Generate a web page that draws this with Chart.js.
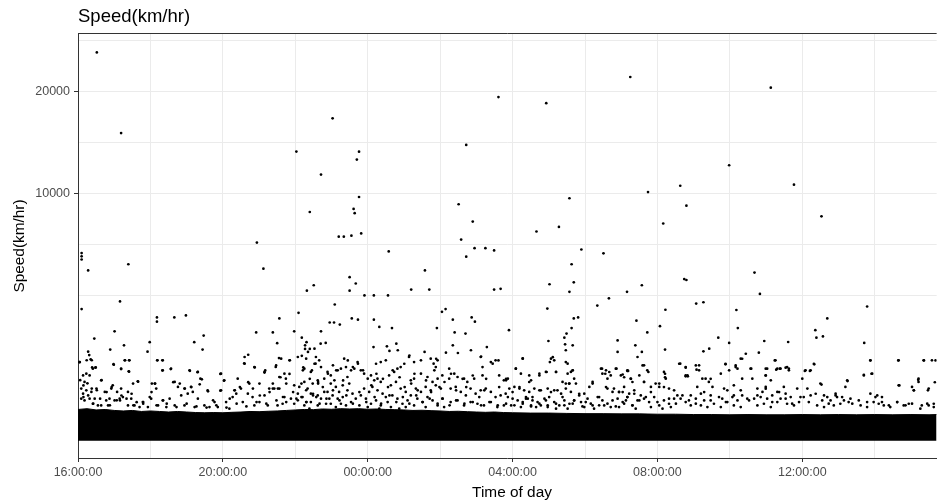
<!DOCTYPE html>
<html>
<head>
<meta charset="utf-8">
<script src="https://cdn.jsdelivr.net/npm/chart.js@4.4.1/dist/chart.umd.min.js"></script>
<style>
  body { margin: 0; background: #fff; }
  canvas { display: block; }
</style>
</head>
<body>
<canvas id="graph1" width="938" height="504"></canvas>
<script>
// time of day is kept as hours after midnight of the first day (16 = 16:00, 28 = 04:00 next day)
const xMajorHours = [16, 20, 24, 28, 32, 36];
const xMinorHours = [18, 22, 26, 30, 34, 38];
const xRange = [16, 39.71];

// speed axis is square-root scaled, like ggplot's scale_y_sqrt
const yMajorSpeeds = [10000, 20000];
const yMinorSpeeds = [3432, 6287, 14571, 26287];
const yRange = [-49, 27100];

// top edge of the solid black band of slow readings (km/hr)
const bandHours = [16, 16.25, 16.5, 16.75, 17, 17.25, 17.5, 17.75, 18, 18.25, 18.5, 18.75, 19, 19.25, 19.5,
  19.75, 20, 20.25, 20.5, 20.75, 21, 21.25, 21.5, 21.75, 22, 22.25, 22.5, 22.75, 23, 23.25, 23.5, 23.75,
  24, 24.25, 24.5, 24.75, 25, 25.25, 25.5, 25.75, 26, 26.25, 26.5, 26.75, 27, 27.25, 27.5, 27.75,
  28, 28.5, 29, 29.5, 30, 30.5, 31, 31.5, 32, 32.5, 33, 33.5, 34, 34.5, 35, 35.5, 36, 36.5, 37, 37.5,
  38, 38.5, 39, 39.5, 39.71];
const bandTop = [160, 168, 155, 160, 150, 145, 150, 140, 145, 140, 135, 140, 135, 130, 128,
  130, 128, 132, 135, 140, 138, 142, 145, 150, 155, 160, 158, 165, 162, 168, 165, 168,
  162, 165, 160, 158, 155, 150, 152, 148, 145, 140, 142, 138, 135, 132, 135, 130,
  128, 125, 125, 122, 120, 120, 118, 118, 115, 115, 112, 112, 110, 112, 110, 110, 112, 110, 112, 110,
  112, 110, 112, 110, 112];

// high readings [hour, km/hr]
const highPoints = [
  [16.52, 24700], [17.19, 15500], [22.03, 13700], [20.94, 6430], [21.12, 4850], [16.10, 5770], [16.10, 5570],
  [16.10, 5380], [16.28, 4750], [17.39, 5100], [17.16, 3180], [16.10, 2840], [17.01, 1960], [16.45, 1710],
  [18.18, 2490], [18.18, 2320], [18.66, 2490], [18.98, 2570], [19.47, 1810], [21.56, 2450], [20.92, 1920],
  [21.38, 1920], [21.97, 1960],
  [27.61, 19350], [23.03, 17030], [26.72, 14330], [23.76, 13690], [23.70, 12950], [22.71, 11600], [23.76, 9730],
  [22.40, 8570], [23.61, 8800], [23.64, 8480], [23.20, 6820], [23.34, 6820], [23.55, 6890], [23.82, 7040],
  [24.58, 5870], [25.58, 4750], [22.32, 3690], [22.51, 3960], [23.50, 4380], [23.67, 4050], [23.50, 3690],
  [23.91, 3460], [24.17, 3460], [24.56, 3460], [25.20, 3740], [25.70, 3740], [26.51, 9160], [26.90, 7870],
  [26.58, 6630], [26.95, 6070], [27.25, 6070], [27.49, 5930], [26.72, 5550], [27.49, 3740], [27.67, 3780],
  [22.09, 2680], [23.09, 3040], [22.95, 2290], [23.07, 2290], [23.23, 2210], [23.56, 2450], [23.73, 2400],
  [24.17, 2400], [26.05, 2720], [26.15, 2840], [26.35, 2400], [26.87, 2490], [26.96, 2320], [22.71, 1960],
  [24.32, 2120], [24.67, 2080], [25.91, 2080], [27.90, 2000], [26.40, 1920], [26.70, 1880], [22.18, 1740],
  [31.25, 21670], [28.93, 18660], [33.98, 12430], [32.63, 10650], [31.74, 10130], [32.80, 9050], [29.57, 9630],
  [32.16, 7730], [29.28, 7490], [28.66, 7170], [29.90, 5990], [30.51, 5750], [29.63, 5100], [29.02, 4010],
  [29.69, 4110], [29.57, 3630], [31.57, 3960], [31.16, 3630], [32.74, 4280], [32.80, 4230], [28.96, 2860],
  [29.69, 2450], [29.81, 2490], [29.63, 2080], [29.49, 1880], [29.43, 1740], [30.34, 2990], [30.66, 3320],
  [31.42, 2360], [31.72, 1920], [32.07, 2150], [32.22, 2810], [33.07, 3080], [33.27, 3140], [33.68, 1740],
  [35.13, 20420], [35.77, 10740], [36.53, 8250], [34.68, 4630], [34.83, 3530], [34.18, 2800], [34.22, 2080],
  [37.79, 2950], [36.69, 2450], [36.36, 2000], [36.39, 1740], [36.57, 1780]
];

// the scattered cloud between roughly 1000 and 2000 km/hr and just above the band [hour, km/hr]
const cloudPoints = [
  [17.98, 1590], [17.27, 1490], [16.89, 1360], [16.28, 1300], [16.31, 1200], [17.92, 1300], [19.21, 1590],
  [19.44, 1360], [21.50, 1560], [22.31, 1590],
  [16.04, 1010], [16.24, 1060], [16.38, 1060], [17.41, 1060], [17.30, 1060], [18.19, 1060], [18.33, 1060],
  [16.49, 880], [16.39, 880], [16.98, 960], [17.19, 840], [17.41, 780], [17.66, 570], [18.33, 810], [18.56, 840],
  [19.09, 800], [19.30, 770], [19.38, 630], [19.59, 400], [19.93, 730], [20.03, 590], [19.93, 410], [20.59, 980],
  [20.70, 1210], [20.88, 880], [21.15, 760], [21.17, 810], [21.46, 890], [21.55, 1120], [21.59, 660], [21.84, 730],
  [21.85, 1060], [22.18, 1180], [22.27, 1380], [22.40, 1380], [22.22, 880], [22.46, 810], [22.53, 970],
  [16.06, 600], [16.15, 500], [16.26, 540], [16.38, 445], [16.52, 417], [16.65, 600], [16.79, 388], [16.93, 471],
  [17.07, 267], [17.20, 335], [17.34, 289], [17.48, 361], [17.62, 243], [17.80, 225], [18.03, 388], [18.12, 534],
  [18.35, 267], [18.63, 562], [18.81, 534], [18.95, 445], [19.13, 471], [19.36, 520], [19.73, 267], [20.19, 289],
  [20.33, 417], [20.47, 471], [20.70, 562], [20.83, 445], [21.02, 335], [21.29, 388], [21.38, 445], [21.52, 445],
  [21.66, 313], [21.75, 534], [21.94, 388], [22.07, 267], [22.17, 534], [22.30, 417], [22.49, 335], [22.63, 534],
  [16.15, 312], [16.42, 225], [16.61, 289], [16.88, 205], [17.16, 266], [17.53, 205], [17.80, 245], [18.17, 205],
  [18.45, 225], [18.72, 185], [19.00, 225], [19.27, 193], [19.55, 180], [19.82, 205], [20.10, 180], [20.38, 225],
  [20.65, 193], [20.93, 245], [21.20, 225], [21.48, 266], [21.75, 245], [22.03, 289], [22.31, 245], [22.58, 312],
  [28.99, 1628], [29.45, 1522], [29.66, 1490], [29.47, 1340], [30.90, 1648], [30.90, 1290],
  [22.27, 1490], [22.35, 1290], [22.53, 1388], [22.70, 1544], [22.84, 1565], [24.16, 1436], [24.53, 1458],
  [24.60, 1320], [24.79, 1544], [24.83, 1340], [25.15, 1190], [25.57, 1290], [25.82, 973], [25.89, 1100],
  [26.16, 1270], [26.35, 1490], [26.49, 1260], [26.85, 1340], [27.13, 1160], [27.29, 1436], [27.45, 973],
  [27.61, 1056], [28.09, 850], [28.28, 1110], [28.46, 565], [28.74, 697], [28.94, 773], [29.03, 1014],
  [29.11, 1142], [29.20, 773], [29.52, 973], [29.66, 812], [29.47, 534], [30.47, 850], [30.56, 734],
  [30.67, 773], [30.87, 850], [31.08, 660], [31.17, 797],
  [22.21, 812], [22.40, 627], [22.56, 973], [22.63, 565], [22.76, 471], [22.90, 734], [23.04, 930], [23.13, 812],
  [23.32, 595], [23.45, 1056], [23.59, 888], [23.73, 973], [23.87, 812], [24.10, 502], [24.24, 734], [24.42, 627],
  [24.56, 471], [24.69, 812], [24.88, 660], [25.02, 471], [25.20, 534], [25.29, 734], [25.38, 416], [25.61, 595],
  [25.75, 388], [25.84, 812], [25.98, 471], [26.12, 565], [26.30, 734], [26.44, 416], [26.62, 627], [26.72, 471],
  [26.90, 697], [27.08, 312], [27.22, 416], [27.27, 627], [27.63, 471], [27.82, 627], [28.00, 388], [28.19, 471],
  [28.37, 289], [28.55, 312], [28.74, 416], [28.92, 266], [29.06, 388], [29.24, 416], [29.38, 312], [29.56, 534],
  [29.70, 266], [29.84, 361], [30.02, 245], [30.21, 534], [30.39, 312], [30.58, 471], [30.76, 266], [30.94, 388],
  [31.13, 266],
  [22.17, 312], [22.30, 245], [22.49, 361], [22.67, 225], [22.86, 289], [23.04, 416], [23.22, 266], [23.41, 336],
  [23.59, 225], [23.77, 388], [23.96, 245], [24.19, 312], [24.37, 225], [24.60, 336], [24.79, 245], [24.97, 312],
  [25.15, 225], [25.34, 336], [25.52, 245], [25.71, 289], [25.93, 225], [26.07, 289], [26.26, 205], [26.44, 266],
  [26.67, 225], [26.90, 245], [27.13, 205], [27.36, 245], [27.59, 205], [27.82, 225], [28.05, 205], [28.28, 225],
  [28.51, 193], [28.74, 225], [28.97, 205], [29.20, 225], [29.43, 205], [29.66, 225], [29.93, 193], [30.16, 225],
  [30.39, 205], [30.62, 225], [30.85, 193], [31.08, 225], [31.31, 205],
  [31.39, 1490], [31.57, 1290], [31.63, 930], [31.75, 773], [31.19, 797], [31.04, 718], [31.27, 627], [31.31, 565],
  [31.63, 565], [32.05, 534], [32.21, 1360], [32.21, 734], [32.21, 660], [32.63, 973], [32.78, 873], [32.78, 680],
  [32.84, 680], [33.15, 930], [33.08, 827], [33.27, 1310], [33.43, 1388], [33.47, 627], [33.98, 1565], [33.88, 956],
  [34.16, 888], [34.44, 1239], [34.34, 1100], [34.80, 1270], [34.59, 850], [34.95, 1628], [35.24, 1056],
  [34.99, 850], [34.99, 697], [35.28, 827], [35.38, 850], [35.54, 873], [35.61, 1596], [35.63, 812], [36.33, 956],
  [36.07, 797], [36.21, 797], [36.53, 516], [37.25, 583], [37.71, 1565], [37.88, 1056], [37.70, 712], [37.91, 734],
  [38.65, 1056], [38.68, 500], [39.20, 608], [39.08, 416], [39.36, 1056], [39.68, 1056], [39.66, 560], [39.47, 416],
  [31.04, 388], [31.17, 312], [31.36, 361], [31.50, 266], [31.68, 312], [31.82, 388], [32.00, 245], [32.18, 471],
  [32.32, 289], [32.51, 225], [32.69, 336], [32.87, 266], [33.06, 225], [33.29, 388], [33.47, 266], [33.70, 312],
  [33.89, 245], [34.11, 336], [34.30, 416], [34.53, 266], [34.76, 336], [34.99, 443], [35.17, 245], [35.36, 388],
  [35.54, 289], [35.72, 225], [35.95, 312], [36.18, 245], [36.37, 361], [36.55, 266], [36.73, 225], [36.92, 336],
  [37.15, 266], [37.38, 225], [37.56, 266], [37.79, 245], [38.02, 312], [38.20, 245], [38.39, 205], [38.62, 245],
  [38.85, 205], [39.03, 225], [39.26, 168], [39.45, 225], [39.63, 185]
];

// dense speckle between roughly 170 and 1150 km/hr [hour, km/hr]
const fringePoints = [
  [16.05, 1014], [16.14, 699], [16.23, 736], [16.32, 699], [16.41, 850], [16.18, 566], [16.09, 445], [16.14, 362],
  [16.23, 416], [16.28, 336], [16.09, 289], [16.18, 266], [16.32, 289], [16.46, 289], [16.41, 224], [16.55, 204],
  [16.64, 597], [16.74, 390], [16.78, 266], [16.87, 289], [16.51, 445], [16.37, 390], [16.64, 204], [16.83, 204],
  [16.92, 445], [16.35, 1084], [16.48, 873],
  [16.99, 945], [17.19, 850], [17.40, 790], [17.29, 1058], [17.42, 1058], [17.65, 578], [16.96, 502], [17.19, 445],
  [17.08, 390], [17.01, 266], [17.15, 289], [17.24, 312], [17.38, 390], [17.47, 289], [17.56, 204], [17.70, 185],
  [17.38, 204], [17.79, 244], [17.52, 534],
  [18.19, 1058], [18.34, 1058], [18.34, 812], [18.57, 850], [18.04, 534], [18.16, 445], [18.13, 534], [17.98, 312],
  [18.02, 289], [18.34, 266], [18.21, 204], [18.67, 566], [18.76, 473], [18.53, 289], [18.67, 204], [17.93, 185],
  [18.44, 185],
  [19.08, 812], [19.31, 774], [19.42, 617], [18.94, 445], [19.12, 473], [19.17, 390], [19.03, 362], [18.85, 336],
  [19.58, 416], [19.31, 289], [19.49, 204], [19.22, 185], [18.94, 204], [19.63, 185],
  [19.95, 736], [20.04, 597], [19.95, 416], [20.41, 631], [20.32, 416], [20.50, 445], [20.37, 362], [20.27, 312],
  [20.55, 244], [19.86, 185], [20.18, 168], [20.60, 1148], [20.09, 244], [19.77, 244],
  [20.60, 970], [20.87, 889], [21.15, 774], [21.01, 534], [20.73, 534], [20.69, 362], [20.82, 312], [21.01, 244],
  [21.15, 336], [21.28, 445], [21.42, 445], [21.56, 445], [21.38, 534], [21.56, 665], [21.61, 1102], [21.84, 1058],
  [21.24, 204], [21.51, 204], [20.87, 204], [21.47, 928], [21.70, 736], [21.74, 631],
  [22.07, 1148], [22.30, 1102], [22.57, 1148], [22.66, 1058], [22.25, 850], [22.43, 774], [22.71, 889], [21.97, 502],
  [22.11, 473], [22.25, 566], [22.34, 445], [22.48, 534], [22.62, 597], [22.80, 631], [22.07, 362], [22.20, 312],
  [21.88, 289], [21.70, 312], [22.43, 362], [22.62, 336], [22.80, 390], [22.71, 289], [21.97, 224], [22.25, 204],
  [22.43, 244], [22.62, 204], [21.65, 224], [22.85, 224], [22.39, 168],
  [22.89, 774], [22.98, 699], [23.08, 597], [23.17, 812], [23.26, 850], [22.98, 534], [23.12, 473], [23.21, 390],
  [23.31, 502], [23.35, 1102], [23.40, 889], [23.44, 665], [23.54, 812], [23.63, 850], [22.89, 390], [23.03, 336],
  [23.17, 289], [23.31, 312], [23.44, 416], [23.58, 362], [23.26, 224], [22.98, 224], [23.12, 185], [23.40, 204],
  [23.54, 244], [23.67, 289], [23.72, 1014], [22.94, 289], [23.49, 534],
  [23.81, 812], [23.90, 736], [24.00, 631], [24.09, 699], [24.18, 597], [24.27, 631], [24.36, 566], [24.23, 970],
  [24.36, 1014], [23.90, 445], [24.04, 390], [24.13, 473], [24.27, 416], [24.41, 362], [23.81, 336], [23.95, 289],
  [24.09, 224], [24.23, 266], [24.36, 204], [24.50, 312], [23.77, 204], [24.00, 185], [24.32, 168],
  [24.50, 1058], [24.59, 699], [24.73, 774], [24.82, 850], [24.91, 889], [25.01, 970], [25.14, 1148], [24.64, 502],
  [24.78, 566], [24.91, 445], [25.05, 390], [25.19, 597], [24.55, 244], [24.68, 336], [24.82, 289], [24.96, 224],
  [25.10, 266], [25.19, 336], [24.64, 185], [24.87, 168], [25.05, 185],
  [25.28, 1014], [25.47, 1058], [25.74, 1102], [25.93, 1058], [25.88, 889], [25.28, 631], [25.47, 736], [25.65, 665],
  [25.79, 566], [25.93, 631], [26.06, 699], [25.33, 445], [25.47, 390], [25.60, 473], [25.74, 416], [25.88, 502],
  [26.02, 445], [25.37, 289], [25.51, 244], [25.65, 312], [25.79, 266], [25.93, 204], [26.06, 289], [25.28, 204],
  [25.60, 185], [26.11, 185],
  [26.25, 850], [26.39, 736], [26.25, 631], [26.48, 665], [26.66, 631], [26.75, 566], [26.94, 631], [27.12, 1148],
  [27.17, 889], [27.17, 699], [27.40, 1014], [27.53, 1058], [27.63, 699], [27.76, 597], [26.29, 445], [26.43, 473],
  [26.57, 390], [26.71, 336], [26.84, 445], [26.98, 362], [27.12, 416], [27.26, 445], [27.40, 390], [27.53, 312],
  [27.67, 336], [27.81, 362], [26.29, 244], [26.48, 266], [26.66, 204], [26.84, 244], [27.03, 224], [27.21, 204],
  [27.40, 244], [27.58, 185], [27.76, 204],
  [27.82, 597], [27.87, 631], [28.09, 850], [28.23, 736], [28.28, 1102], [28.46, 699], [28.51, 597], [28.74, 736],
  [27.91, 445], [28.05, 473], [28.19, 445], [28.32, 416], [28.46, 390], [28.60, 445], [27.87, 312], [28.00, 289],
  [28.14, 266], [28.28, 244], [28.42, 289], [28.55, 266], [28.69, 244], [27.96, 204], [28.23, 185], [28.51, 204],
  [28.65, 185], [28.37, 312],
  [28.92, 774], [29.06, 1102], [29.15, 1058], [29.20, 774], [29.38, 566], [29.47, 1014], [29.52, 736], [29.61, 774],
  [29.70, 631], [29.57, 534], [28.78, 416], [28.97, 445], [29.15, 416], [29.34, 362], [29.47, 445], [29.61, 390],
  [28.88, 289], [29.01, 312], [29.15, 244], [29.29, 204], [29.43, 266], [29.57, 224], [28.78, 204], [28.97, 185],
  [29.20, 168], [29.52, 168],
  [29.66, 812], [29.75, 534], [29.84, 336], [29.98, 362], [30.12, 473], [30.21, 566], [30.44, 850], [30.48, 736],
  [30.58, 812], [30.62, 631], [30.71, 699], [29.70, 266], [29.89, 244], [30.07, 289], [30.21, 204], [30.35, 312],
  [30.48, 266], [30.62, 445], [30.76, 390], [30.53, 204], [29.98, 185], [30.25, 168], [30.71, 185],
  [30.85, 850], [30.99, 699], [31.17, 812], [31.26, 631], [31.45, 1148], [31.50, 699], [31.59, 928], [31.63, 566],
  [30.80, 445], [30.94, 390], [31.08, 473], [31.22, 362], [31.36, 416], [30.90, 289], [31.04, 244], [31.17, 312],
  [31.31, 204], [31.45, 266], [31.54, 336], [31.72, 812], [30.94, 185], [31.40, 168],
  [31.82, 473], [31.95, 534], [32.05, 473], [32.18, 774], [32.23, 631], [32.32, 445], [32.46, 416], [31.63, 289],
  [31.77, 244], [31.91, 312], [32.05, 204], [32.18, 266], [32.32, 224], [32.46, 289], [32.55, 336], [32.60, 970],
  [32.78, 889], [32.78, 699], [32.64, 289], [31.82, 185], [32.14, 168], [32.37, 185],
  [32.83, 699], [33.06, 928], [33.15, 812], [33.24, 631], [33.33, 631], [33.42, 566], [33.52, 473], [33.10, 473],
  [32.92, 336], [33.06, 289], [33.20, 362], [33.29, 266], [33.47, 336], [32.78, 244], [32.92, 204], [33.20, 204],
  [33.38, 185], [33.56, 224],
  [33.75, 736], [33.88, 970], [33.98, 812], [34.16, 928], [34.21, 850], [34.30, 1102], [34.34, 631], [34.11, 502],
  [33.84, 445], [33.93, 416], [33.79, 289], [33.93, 244], [34.07, 312], [34.21, 266], [34.34, 336], [34.11, 204],
  [33.75, 185], [34.30, 185], [34.48, 289],
  [34.57, 850], [34.62, 631], [34.76, 445], [34.90, 390], [34.99, 699], [34.99, 473], [35.03, 850], [35.13, 597],
  [35.26, 1058], [34.67, 289], [34.85, 312], [35.03, 289], [35.17, 336], [35.31, 390], [34.76, 204], [34.94, 224],
  [35.13, 185], [35.31, 244],
  [35.31, 850], [35.40, 850], [35.49, 473], [35.54, 362], [35.58, 889], [35.63, 850], [35.68, 312], [35.86, 445],
  [35.77, 204], [35.40, 289], [35.58, 224], [35.91, 244], [36.00, 631], [36.09, 812], [36.23, 812], [36.32, 970],
  [36.14, 445], [36.04, 312], [36.23, 336],
  [36.50, 534], [36.60, 336], [36.69, 312], [36.78, 266], [36.92, 362], [36.96, 312], [37.10, 312], [37.19, 473],
  [37.24, 597], [37.33, 289], [36.41, 204], [36.60, 185], [36.87, 204], [37.05, 224], [37.28, 244],
  [37.70, 699], [37.88, 1058], [37.93, 736], [37.88, 362], [38.07, 336], [38.20, 312], [37.97, 244], [38.11, 224],
  [37.61, 204], [37.79, 185],
  [38.66, 1058], [38.66, 502], [39.03, 473], [39.21, 631], [39.21, 566], [39.08, 416], [39.35, 1058], [39.58, 1058],
  [39.49, 445], [38.62, 244], [38.80, 204], [38.25, 204], [38.43, 185], [38.94, 224], [39.30, 204], [39.49, 204],
  [39.63, 224]
];

window.addEventListener("load", function () {
    draw_speed();
});

// signed square root so the expanded lower limit can sit a bit below zero
function ssqrt(v) {
    return Math.sign(v) * Math.sqrt(Math.abs(v));
}

class SqrtScale extends Chart.LinearScale {
    configure() {
        super.configure();
        this._sStart = ssqrt(this.min);
        this._sRange = ssqrt(this.max) - this._sStart;
    }
    getPixelForValue(value) {
        return this.getPixelForDecimal((ssqrt(value) - this._sStart) / this._sRange);
    }
    getValueForPixel(pixel) {
        const s = this._sStart + this.getDecimalForPixel(pixel) * this._sRange;
        return Math.sign(s) * s * s;
    }
}
SqrtScale.id = 'sqrt';
SqrtScale.defaults = Chart.LinearScale.defaults;
Chart.register(SqrtScale);

function clock(h) {
    return String(h % 24).padStart(2, '0') + ":00:00";
}

const FONT = '"Liberation Sans", Arial, sans-serif';

// titles and the top panel border, drawn ggplot-style
const ggText = {
    id: 'ggText',
    afterDraw(chart) {
        const ctx = chart.ctx;
        const a = chart.chartArea;
        ctx.save();
        ctx.strokeStyle = '#333333';
        ctx.lineWidth = 1;
        ctx.beginPath();
        ctx.moveTo(a.left, a.top - 0.5);
        ctx.lineTo(a.right, a.top - 0.5);
        ctx.stroke();

        ctx.fillStyle = '#000';
        ctx.textBaseline = 'alphabetic';
        ctx.font = '18.5px ' + FONT;
        ctx.textAlign = 'left';
        ctx.fillText('Speed(km/hr)', 78, 22);

        ctx.font = '15.4px ' + FONT;
        ctx.textAlign = 'center';
        ctx.fillText('Time of day', 512, 497);

        ctx.translate(24, (a.top + a.bottom) / 2);
        ctx.rotate(-Math.PI / 2);
        ctx.fillText('Speed(km/hr)', 0, 0);
        ctx.restore();
    }
};

function draw_speed() {
    const ctx = document.getElementById("graph1").getContext('2d');
    const toXY = (p) => ({ x: p[0], y: p[1] });
    const xAll = xMajorHours.concat(xMinorHours).sort((a, b) => a - b);
    const yAll = yMajorSpeeds.concat(yMinorSpeeds).sort((a, b) => a - b);

    new Chart(ctx, {
        type: 'scatter',
        data: {
            datasets: [
                {
                    type: 'line',
                    data: bandHours.map((h, i) => ({ x: h, y: bandTop[i] })),
                    fill: { value: 0 },
                    backgroundColor: '#000000',
                    borderColor: '#000000',
                    borderWidth: 1,
                    pointRadius: 0,
                    tension: 0,
                },
                {
                    data: highPoints.concat(cloudPoints, fringePoints).map(toXY),
                    backgroundColor: '#000000',
                    borderWidth: 0,
                    pointRadius: 1.35,
                    pointHoverRadius: 1.35,
                }
            ]
        },
        options: {
            responsive: false,
            animation: false,
            events: [],
            layout: { padding: { top: 34, right: 0, bottom: 0, left: 0 } },
            plugins: {
                legend: { display: false },
                tooltip: { enabled: false },
            },
            scales: {
                x: {
                    type: 'linear',
                    min: xRange[0],
                    max: xRange[1],
                    afterBuildTicks: (axis) => { axis.ticks = xAll.map(v => ({ value: v })); },
                    afterFit: (axis) => { axis.height = 46; },
                    ticks: {
                        autoSkip: false,
                        maxRotation: 0,
                        padding: 3,
                        color: '#4D4D4D',
                        font: { family: FONT, size: 12.5 },
                        callback: (v) => xMajorHours.includes(v) ? clock(v) : '',
                    },
                    grid: {
                        color: '#EBEBEB',
                        lineWidth: 1,
                        tickLength: 4,
                        tickColor: (c) => xMajorHours.includes(c.tick.value) ? '#333333' : 'rgba(0,0,0,0)',
                    },
                    border: { color: '#333333', width: 1 },
                },
                y: {
                    type: 'sqrt',
                    min: yRange[0],
                    max: yRange[1],
                    afterBuildTicks: (axis) => { axis.ticks = yAll.map(v => ({ value: v })); },
                    afterFit: (axis) => { axis.width = 78; },
                    ticks: {
                        autoSkip: false,
                        padding: 4,
                        color: '#4D4D4D',
                        font: { family: FONT, size: 12.5 },
                        callback: (v) => yMajorSpeeds.includes(v) ? String(v) : '',
                    },
                    grid: {
                        color: '#EBEBEB',
                        lineWidth: 1,
                        tickLength: 4,
                        tickColor: (c) => yMajorSpeeds.includes(c.tick.value) ? '#333333' : 'rgba(0,0,0,0)',
                    },
                    border: { color: '#333333', width: 1 },
                }
            }
        },
        plugins: [ggText]
    });
}
</script>
</body>
</html>
